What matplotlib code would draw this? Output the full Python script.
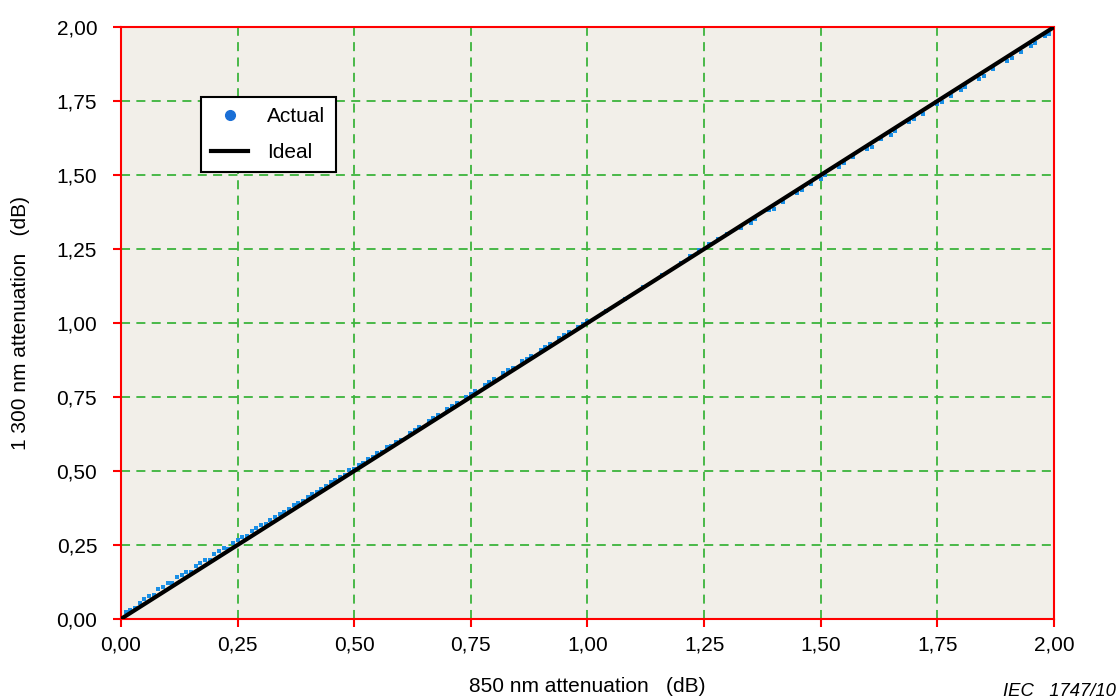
import matplotlib
matplotlib.use("Agg")
import matplotlib.pyplot as plt
from matplotlib.lines import Line2D

plt.rcParams["font.family"] = ["Liberation Sans", "DejaVu Sans"]

# measured points (dB): 850 nm vs 1300 nm attenuation
actual_x = [
    0.02, 0.04, 0.06, 0.08, 0.10, 0.12, 0.14, 0.16, 0.18, 0.20,
    0.22, 0.24, 0.26, 0.28, 0.30, 0.32, 0.34, 0.36, 0.38, 0.40,
    0.42, 0.44, 0.46, 0.48, 0.50, 0.52, 0.54, 0.56, 0.58, 0.60,
    0.03, 0.07, 0.11, 0.15, 0.19, 0.23, 0.27, 0.31, 0.35, 0.39,
    0.43, 0.47, 0.51, 0.55, 0.59,
    0.01, 0.05, 0.09, 0.13, 0.17, 0.21, 0.25, 0.29, 0.33, 0.37,
    0.41, 0.45, 0.49, 0.53, 0.57,
    0.62, 0.64, 0.66, 0.68, 0.70, 0.72, 0.74, 0.76, 0.78, 0.80,
    0.82, 0.84, 0.86, 0.88, 0.90, 0.92, 0.94, 0.96, 0.98, 1.00,
    0.63, 0.67, 0.71, 0.75, 0.79, 0.83, 0.87, 0.91, 0.95, 0.99,
    1.04, 1.08, 1.12, 1.16, 1.20, 1.22, 1.24, 1.26, 1.28, 1.30,
    1.33, 1.36, 1.39, 1.42, 1.45, 1.48, 1.51, 1.54, 1.57, 1.60,
    1.63, 1.66, 1.69, 1.72, 1.75, 1.78, 1.81, 1.84, 1.87, 1.90,
    1.93, 1.96, 1.99,
    1.35, 1.40, 1.46, 1.50, 1.55, 1.61, 1.65, 1.70, 1.76, 1.80,
    1.85, 1.91, 1.95, 1.98,
]
actual_y = [
    0.030, 0.055, 0.078, 0.100, 0.122, 0.142, 0.160, 0.180, 0.200, 0.218,
    0.240, 0.258, 0.278, 0.296, 0.316, 0.336, 0.354, 0.372, 0.392, 0.412,
    0.430, 0.450, 0.468, 0.488, 0.508, 0.526, 0.546, 0.564, 0.584, 0.604,
    0.038, 0.080, 0.120, 0.158, 0.198, 0.238, 0.280, 0.320, 0.360, 0.400,
    0.440, 0.480, 0.520, 0.560, 0.598,
    0.022, 0.066, 0.108, 0.150, 0.190, 0.230, 0.268, 0.308, 0.346, 0.386,
    0.424, 0.464, 0.502, 0.542, 0.580,
    0.628, 0.648, 0.670, 0.689, 0.710, 0.730, 0.750, 0.770, 0.790, 0.810,
    0.830, 0.849, 0.870, 0.890, 0.910, 0.929, 0.949, 0.969, 0.988, 1.006,
    0.640, 0.680, 0.720, 0.760, 0.800, 0.840, 0.880, 0.920, 0.960, 0.998,
    1.040, 1.082, 1.120, 1.162, 1.204, 1.226, 1.246, 1.266, 1.284, 1.302,
    1.322, 1.350, 1.382, 1.408, 1.440, 1.468, 1.500, 1.528, 1.560, 1.588,
    1.620, 1.648, 1.678, 1.706, 1.740, 1.766, 1.798, 1.826, 1.858, 1.886,
    1.916, 1.946, 1.978,
    1.338, 1.386, 1.450, 1.486, 1.540, 1.596, 1.636, 1.688, 1.746, 1.788,
    1.836, 1.896, 1.936, 1.968,
]
ideal_x = [0.0, 2.0]
ideal_y = [0.0, 2.0]

ticks = [0.0, 0.25, 0.5, 0.75, 1.0, 1.25, 1.5, 1.75, 2.0]
tick_labels = ["0,00", "0,25", "0,50", "0,75", "1,00", "1,25", "1,50", "1,75", "2,00"]

fig = plt.figure(figsize=(11.19, 7.0), dpi=100)
ax = fig.add_axes([0.108, 0.1157, 0.834, 0.8457])
ax.set_facecolor("#f2efe9")

ax.grid(True, color="#3cb43c", linestyle=(0, (5, 3.5)), linewidth=1.3)
ax.set_axisbelow(True)

ax.scatter(actual_x, actual_y, s=5.5, marker="s", color="#1a8fe6", linewidths=0, zorder=3)
ax.plot(ideal_x, ideal_y, color="black", linewidth=3, zorder=4)

ax.set_xlim(0, 2)
ax.set_ylim(0, 2)
ax.set_xticks(ticks)
ax.set_xticklabels(tick_labels)
ax.set_yticks(ticks)
ax.set_yticklabels(tick_labels)
ax.tick_params(direction="out", length=6, width=1.5, color="red", labelsize=15)
ax.tick_params(axis="x", pad=6)
ax.tick_params(axis="y", pad=11)
for sp in ax.spines.values():
    sp.set_color("red")
    sp.set_linewidth(1.5)

ax.set_xlabel("850 nm attenuation   (dB)", fontsize=15, labelpad=16)
ax.set_ylabel("1 300 nm attenuation   (dB)", fontsize=15, labelpad=19)

handles = [
    Line2D([], [], marker="o", linestyle="none", color="#1a6fd6", markersize=7),
    Line2D([], [], color="black", linewidth=3),
]
leg = ax.legend(handles, ["Actual", "Ideal"], loc="upper left",
                bbox_to_anchor=(0.0857, 0.882), borderaxespad=0,
                fontsize=15, fancybox=False,
                framealpha=1, edgecolor="black", borderpad=0.5,
                handlelength=1.78, handletextpad=0.9, labelspacing=0.8)
leg.get_frame().set_linewidth(1.5)
leg.set_zorder(10)

fig.text(0.997, 0.006, "IEC   1747/10", ha="right", va="baseline",
         fontsize=13.3, style="italic")

fig.savefig("out.png", dpi=100)
